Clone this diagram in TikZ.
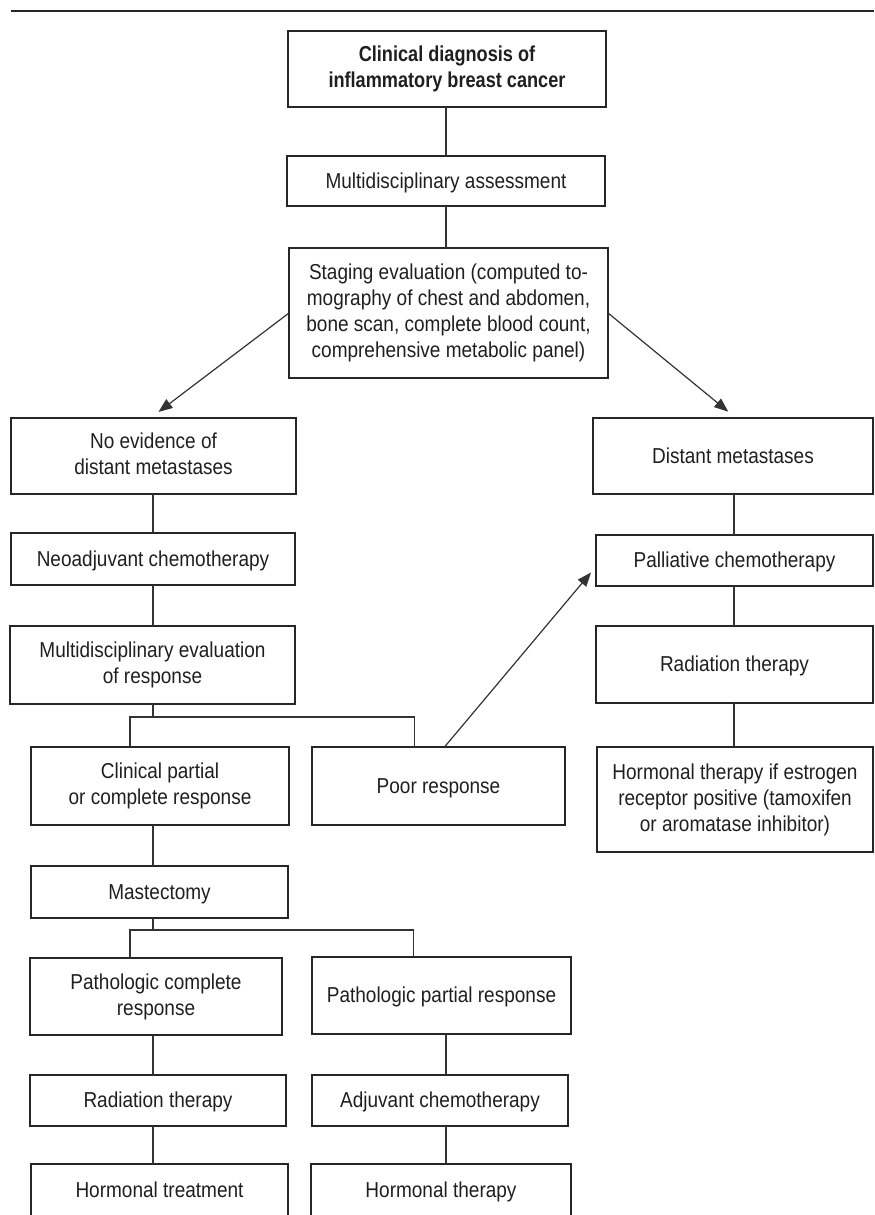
\documentclass[tikz,border=0pt]{standalone}
\usepackage{fontspec}
\setmainfont{Liberation Sans}[FakeStretch=0.88, BoldFeatures={FakeStretch=0.84}]
\usetikzlibrary{arrows.meta}
\newcommand{\boxstrut}{\rule[-1.9pt]{0pt}{11.5pt}}
\begin{document}
\begin{tikzpicture}[x=0.5pt, y=-0.5pt,
		box/.style={draw=black!85, line width=0.6pt, inner sep=0pt, outer sep=0pt, align=center,
			text=black!88, font=\fontsize{10.8}{13}\selectfont,
			execute at begin node=\boxstrut, execute at end node=\boxstrut},
		link/.style={draw=black!80, line width=0.6pt},
		arrow/.style={link, -{Triangle[length=7pt, width=5.4pt]}, shorten >=5pt}]
		\useasboundingbox (0, 0) rectangle (874, 1215);
		\draw[black!85, line width=1.25pt] (11, 11) -- (874, 11);
		% column axes
		\coordinate (lcol) at (153, 0);
		\coordinate (mcol) at (446, 0);
		\coordinate (rcol) at (734, 0);
		% top of the chart
		\node[box, minimum width=159pt, minimum height=38pt, font=\fontsize{10.8}{13}\selectfont\bfseries] (title) at (447, 69) {Clinical diagnosis of\\inflammatory breast cancer};
		\node[box, minimum width=159pt, minimum height=25pt] (assess) at (446, 181) {Multidisciplinary assessment};
		\node[box, minimum width=159.5pt, minimum height=65pt] (staging) at (448.5, 313) {Staging evaluation (computed to-\\mography of chest and abdomen,\\bone scan, complete blood count,\\comprehensive metabolic panel)};
		% left branch
		\node[box, minimum width=142.5pt, minimum height=38pt] (nomet) at (153.5, 456) {No evidence of\\distant metastases};
		\node[box, minimum width=142pt, minimum height=26pt] (neo) at (153, 559) {Neoadjuvant chemotherapy};
		\node[box, minimum width=142.5pt, minimum height=39pt] (mdeval) at (152.5, 665) {Multidisciplinary evaluation\\of response};
		\node[box, minimum width=129pt, minimum height=39pt] (clin) at (160, 786) {Clinical partial\\or complete response};
		\node[box, minimum width=126.5pt, minimum height=39pt] (poor) at (438.5, 786) {Poor response};
		\node[box, minimum width=128.5pt, minimum height=26pt] (mast) at (159.5, 892) {Mastectomy};
		\node[box, minimum width=126pt, minimum height=38.5pt] (pcr) at (156, 996.5) {Pathologic complete\\response};
		\node[box, minimum width=129.5pt, minimum height=38.5pt] (ppr) at (441.5, 995.5) {Pathologic partial response};
		\node[box, minimum width=128pt, minimum height=25.5pt] (radb) at (158, 1100.5) {Radiation therapy};
		\node[box, minimum width=128pt, minimum height=25.5pt] (adj) at (440, 1100.5) {Adjuvant chemotherapy};
		\node[box, minimum width=128.5pt, minimum height=26pt] (hormtx) at (159.5, 1190) {Hormonal treatment};
		\node[box, minimum width=130pt, minimum height=26pt] (hormth) at (441, 1190) {Hormonal therapy};
		% right branch
		\node[box, minimum width=140pt, minimum height=38pt] (distmet) at (733, 456) {Distant metastases};
		\node[box, minimum width=138.5pt, minimum height=25.5pt] (pall) at (734.5, 560.5) {Palliative chemotherapy};
		\node[box, minimum width=138.5pt, minimum height=38.5pt] (rad) at (734.5, 664.5) {Radiation therapy};
		\node[box, minimum width=138pt, minimum height=52.5pt] (horm) at (735, 799.5) {Hormonal therapy if estrogen\\receptor positive (tamoxifen\\or aromatase inhibitor)};
		% straight links
		\foreach \a/\b in {title/assess, assess/staging, ppr/adj, adj/hormth}
			\draw[link] (\a.south -| mcol) -- (\b.north -| mcol);
		\foreach \a/\b in {nomet/neo, neo/mdeval, clin/mast, pcr/radb, radb/hormtx}
			\draw[link] (\a.south -| lcol) -- (\b.north -| lcol);
		\foreach \a/\b in {distmet/pall, pall/rad, rad/horm}
			\draw[link] (\a.south -| rcol) -- (\b.north -| rcol);
		% forks
		\draw[link] (mdeval.south -| lcol) -- ++(0, 13) coordinate (fka);
		\draw[link] ([xshift=-15pt]clin.north) |- (fka) -| ([xshift=-12pt]poor.north);
		\draw[link] (mast.south -| lcol) -- ++(0, 12) coordinate (fkb);
		\draw[link] ([xshift=-13pt]pcr.north) |- (fkb) -| ([xshift=-14pt]ppr.north);
		% arrows
		\draw[arrow] (staging.west) -- ([xshift=-1.5pt]nomet.north);
		\draw[arrow] (staging.east) -- ([xshift=1.5pt]distmet.north);
		\draw[arrow, shorten >=0pt] ([xshift=3pt]poor.north) -- ([shift={(-5, 12)}]pall.west);
	\end{tikzpicture}
\end{document}
